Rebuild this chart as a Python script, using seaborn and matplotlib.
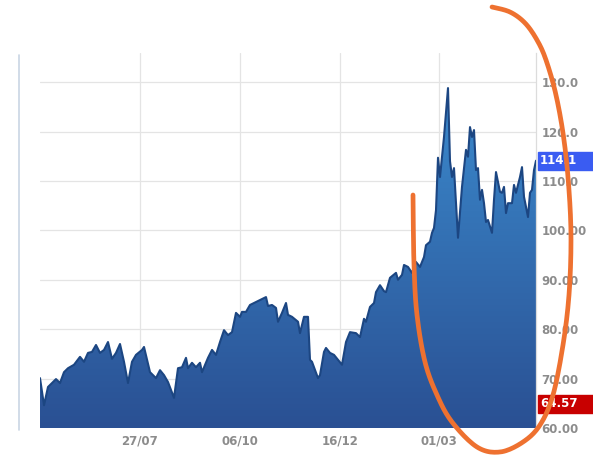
import numpy as np
import matplotlib
matplotlib.use("Agg")
import matplotlib.pyplot as plt
from matplotlib.colors import LinearSegmentedColormap
from matplotlib.patches import PathPatch, Rectangle
from matplotlib.lines import Line2D
import seaborn as sns
import pandas as pd

# ---- data (trading-day index, price) ----
day = [0, 2, 4, 6, 8, 10, 12, 14, 17, 20, 22, 24, 26, 28, 30, 32, 34, 36, 38, 40,
       42, 44, 46, 48, 51, 52, 55, 58, 60, 62, 64, 67, 69, 71, 73, 74, 76, 78, 80, 81,
       84, 86, 88, 90, 92, 94, 96, 98, 100, 101, 103, 105, 108, 110, 113, 114, 116, 118, 119, 121,
       123, 124, 126, 129, 130, 132, 134, 135, 136, 139, 140, 142, 143, 145, 147, 149, 151, 153, 155, 158,
       160, 162, 163, 165, 167, 168, 170, 172, 173, 175, 178, 179, 181, 182, 184, 186, 188, 190, 192, 193,
       195, 196, 197, 198, 199, 200, 202, 204, 205, 206, 207, 208, 209, 211, 213, 214, 215, 216, 217, 218,
       219, 220, 221, 222, 223, 224, 226, 227, 228, 230, 231, 232, 233, 234, 236, 237, 238, 240, 241, 242,
       244, 245, 246, 247, 248]
price = [70.1, 64.6, 68.3, 69.1, 69.9, 69.1, 71.3, 72.1, 72.8, 74.4, 73.4, 75.2, 75.4, 76.8, 75.2, 75.8, 77.4, 74.0, 75.2, 77.0,
         73.4, 69.1, 73.4, 74.8, 75.8, 76.4, 71.3, 70.1, 71.7, 70.7, 69.3, 66.1, 72.1, 72.3, 74.2, 72.1, 73.2, 72.3, 73.2, 71.3,
         74.2, 75.8, 74.8, 77.4, 79.8, 78.8, 79.4, 83.3, 82.5, 83.5, 83.5, 84.9, 85.5, 85.9, 86.5, 84.7, 84.9, 84.3, 81.5, 83.3,
         85.3, 82.9, 82.5, 81.5, 79.2, 82.5, 82.5, 73.8, 73.4, 70.1, 70.7, 75.4, 76.2, 75.2, 74.8, 73.8, 72.8, 77.4, 79.4, 79.2,
         78.4, 82.1, 81.5, 84.5, 85.3, 87.5, 88.9, 87.7, 87.5, 90.4, 91.4, 90.0, 91.0, 93.0, 92.6, 91.4, 93.6, 92.6, 94.6, 97.0,
         97.7, 99.5, 100.5, 104.1, 114.7, 110.8, 118.9, 128.8, 114.0, 110.8, 112.6, 105.5, 98.5, 108.8, 116.3, 114.9, 120.9, 118.9, 120.3, 112.2,
         112.6, 106.2, 108.2, 105.5, 101.7, 102.1, 99.5, 106.2, 111.8, 107.8, 107.6, 108.8, 103.5, 105.5, 105.5, 109.2, 107.6, 110.8, 112.8, 106.8,
         102.7, 107.6, 108.2, 112.2, 114.1]

tick_pos = [50, 100, 150, 199.5]
tick_labels = ["27/07", "06/10", "16/12", "01/03"]
y_ticks = [60, 70, 80, 90, 100, 110, 120, 130]
y_labels = ["60.00", "70.00", "80.00", "90.00", "100.00", "110.0", "120.0", "130.0"]
last_price = "114.1"
low_price = "64.57"

df = pd.DataFrame({"day": day, "price": price})

sns.set_theme(style="white")
W, H = 593, 458
fig = plt.figure(figsize=(W / 100, H / 100), dpi=100)
ax = fig.add_axes([40 / W, 1 - 428 / H, (536 - 40) / W, (428 - 53) / H])

YMIN, YMAX = 60, 135.9
ax.set_xlim(0, 248)
ax.set_ylim(YMIN, YMAX)

# gradient area fill clipped to series
poly = ax.fill_between(df["day"], df["price"], YMIN, color="none", lw=0)
path = poly.get_paths()[0]
patch = PathPatch(path, transform=ax.transData, facecolor="none", edgecolor="none")
ax.add_patch(patch)
cmap = LinearSegmentedColormap.from_list("g", ["#2a5093", "#3d90d3"])
grad = np.linspace(0, 1, 256).reshape(-1, 1)
im = ax.imshow(grad, extent=[0, 248, YMIN, YMAX], origin="lower", aspect="auto",
               cmap=cmap, zorder=2)
im.set_clip_path(patch)

sns.lineplot(data=df, x="day", y="price", ax=ax, color="#1c4682", lw=1.5, zorder=3)

# grid
ax.set_yticks(y_ticks)
ax.set_xticks(tick_pos)
ax.grid(True, color="#e4e4e4", lw=0.9, zorder=0)
ax.set_axisbelow(True)
ax.yaxis.tick_right()
ax.set_yticklabels(y_labels)
ax.set_xticklabels(tick_labels)
ax.tick_params(axis="both", length=0, labelsize=8.5, labelcolor="#8c8c8c")
ax.tick_params(axis="y", pad=4)
ax.tick_params(axis="x", pad=5)
for lab in ax.get_xticklabels() + ax.get_yticklabels():
    lab.set_fontweight("bold")
    
for lab in ax.get_yticklabels():
    lab.set_verticalalignment("center_baseline")
ax.set_xlabel("")
ax.set_ylabel("")
for s in ["left", "top", "bottom"]:
    ax.spines[s].set_visible(False)
ax.spines["right"].set_color("#dcdcdc")
ax.spines["right"].set_linewidth(0.9)

# price tags
def tag(value, text, color):
    yc = ax.transData.transform((0, value))[1]
    fig.patches.append(Rectangle((538 / W, (yc - 9) / H), 60 / W, 18 / H,
                                 transform=fig.transFigure, color=color, zorder=5))
    fig.text(540 / W, yc / H, text, color="white", fontsize=8.5, fontweight="bold",
             va="center", ha="left", zorder=6)

tag(114.1, last_price, "#3a5cf2")
tag(64.9, low_price, "#c80000")

# left frame line
fig.lines.append(Line2D([19 / W, 19 / W], [1 - 430 / H, 1 - 55 / H], transform=fig.transFigure,
                        color="#c9d6e4", lw=1.2))

# orange hand-drawn annotation (smoothed with Catmull-Rom through guide points)
pts = np.array([(492, 7), (510, 12), (525, 23), (537, 40), (546, 60), (556, 95), (564, 140), (569, 190),
                (571, 240), (569, 295), (563, 345), (553, 395), (540, 425), (523, 442), (500, 452),
                (477, 447), (452, 422), (437, 395), (425, 362), (417, 315), (414, 265), (413, 195)], float)
P = np.vstack([pts[0], pts, pts[-1]])
curve = []
for i in range(1, len(P) - 2):
    p0, p1, p2, p3 = P[i - 1], P[i], P[i + 1], P[i + 2]
    for t in np.linspace(0, 1, 12, endpoint=False):
        t2, t3 = t * t, t * t * t
        curve.append(0.5 * ((2 * p1) + (-p0 + p2) * t + (2 * p0 - 5 * p1 + 4 * p2 - p3) * t2
                            + (-p0 + 3 * p1 - 3 * p2 + p3) * t3))
curve.append(pts[-1])
curve = np.array(curve)
fig.lines.append(Line2D(curve[:, 0] / W, 1 - curve[:, 1] / H, transform=fig.transFigure,
                        color="#ee7130", lw=3.4, solid_joinstyle="round",
                        solid_capstyle="round", zorder=10))

fig.savefig("out.png", dpi=100)
